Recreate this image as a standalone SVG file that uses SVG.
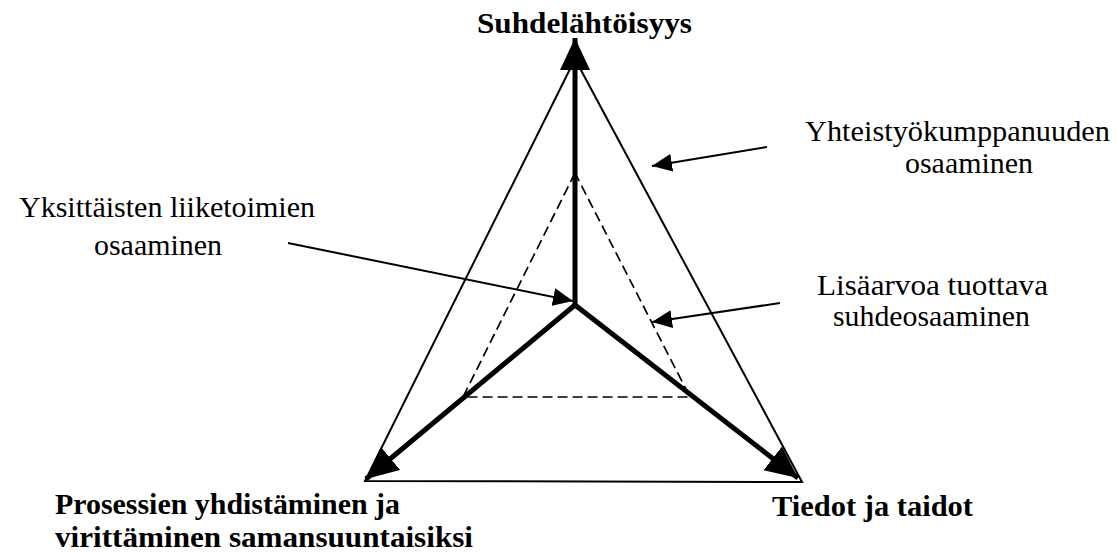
<svg xmlns="http://www.w3.org/2000/svg" width="1120" height="553" viewBox="0 0 1120 553">
<defs>
<style>
.lbl{font-family:"Liberation Serif","Times New Roman","DejaVu Serif",serif;font-size:30px;fill:#000}
.bold{font-weight:bold}
.thin{stroke:#000;stroke-width:2;fill:none}
.dash{stroke:#000;stroke-width:1.7;fill:none;stroke-dasharray:10,5}
.thick{stroke:#000;stroke-width:5;fill:none}
.ptr{stroke:#000;stroke-width:2;fill:none}
</style>
<marker id="bigHead" markerUnits="userSpaceOnUse" markerWidth="34" markerHeight="32" refX="32" refY="15" orient="auto">
<path d="M0,0 L32,15 L0,30 Z" fill="#000"/>
</marker>
<marker id="smallHead" markerUnits="userSpaceOnUse" markerWidth="22" markerHeight="18" refX="20" refY="9" orient="auto">
<path d="M0,0 L20,9 L0,18 Z" fill="#000"/>
</marker>
</defs>
<rect width="1120" height="553" fill="#fff"/>
<g id="outer-triangle">
<path class="thin" d="M575,59 L365,481 L802,482 Z"/>
</g>
<g id="inner-triangle">
<path class="dash" d="M575,173 L463,397 L690,397 Z"/>
</g>
<g id="connectors">
<line class="thick" x1="575" y1="305" x2="575" y2="38" marker-end="url(#bigHead)"/>
<line class="thick" x1="575" y1="305" x2="366" y2="479" marker-end="url(#bigHead)"/>
<line class="thick" x1="575" y1="305" x2="798" y2="478" marker-end="url(#bigHead)"/>
<line class="ptr" x1="767" y1="147" x2="652" y2="166" marker-end="url(#smallHead)"/>
<line class="ptr" x1="780" y1="303" x2="652" y2="322" marker-end="url(#smallHead)"/>
<line class="ptr" x1="288" y1="243" x2="573" y2="301" marker-end="url(#smallHead)"/>
</g>
<g id="n-suhdelahtoisyys">
<text class="lbl bold" x="477" y="33" textLength="215" lengthAdjust="spacingAndGlyphs">Suhdelähtöisyys</text>
</g>
<g id="n-yhteistyo">
<text class="lbl" x="805" y="141" textLength="305" lengthAdjust="spacingAndGlyphs">Yhteistyökumppanuuden</text>
<text class="lbl" x="905" y="173" textLength="128" lengthAdjust="spacingAndGlyphs">osaaminen</text>
</g>
<g id="n-yksittaisten">
<text class="lbl" x="19" y="217" textLength="296" lengthAdjust="spacingAndGlyphs">Yksittäisten liiketoimien</text>
<text class="lbl" x="94" y="255" textLength="128" lengthAdjust="spacingAndGlyphs">osaaminen</text>
</g>
<g id="n-lisaarvoa">
<text class="lbl" x="817" y="295" textLength="231" lengthAdjust="spacingAndGlyphs">Lisäarvoa tuottava</text>
<text class="lbl" x="833" y="326" textLength="197" lengthAdjust="spacingAndGlyphs">suhdeosaaminen</text>
</g>
<g id="n-prosessien">
<text class="lbl bold" x="55" y="514" textLength="345" lengthAdjust="spacingAndGlyphs">Prosessien yhdistäminen ja</text>
<text class="lbl bold" x="55" y="547" textLength="418" lengthAdjust="spacingAndGlyphs">virittäminen samansuuntaisiksi</text>
</g>
<g id="n-tiedot">
<text class="lbl bold" x="772" y="516" textLength="201" lengthAdjust="spacingAndGlyphs">Tiedot ja taidot</text>
</g>
</svg>
